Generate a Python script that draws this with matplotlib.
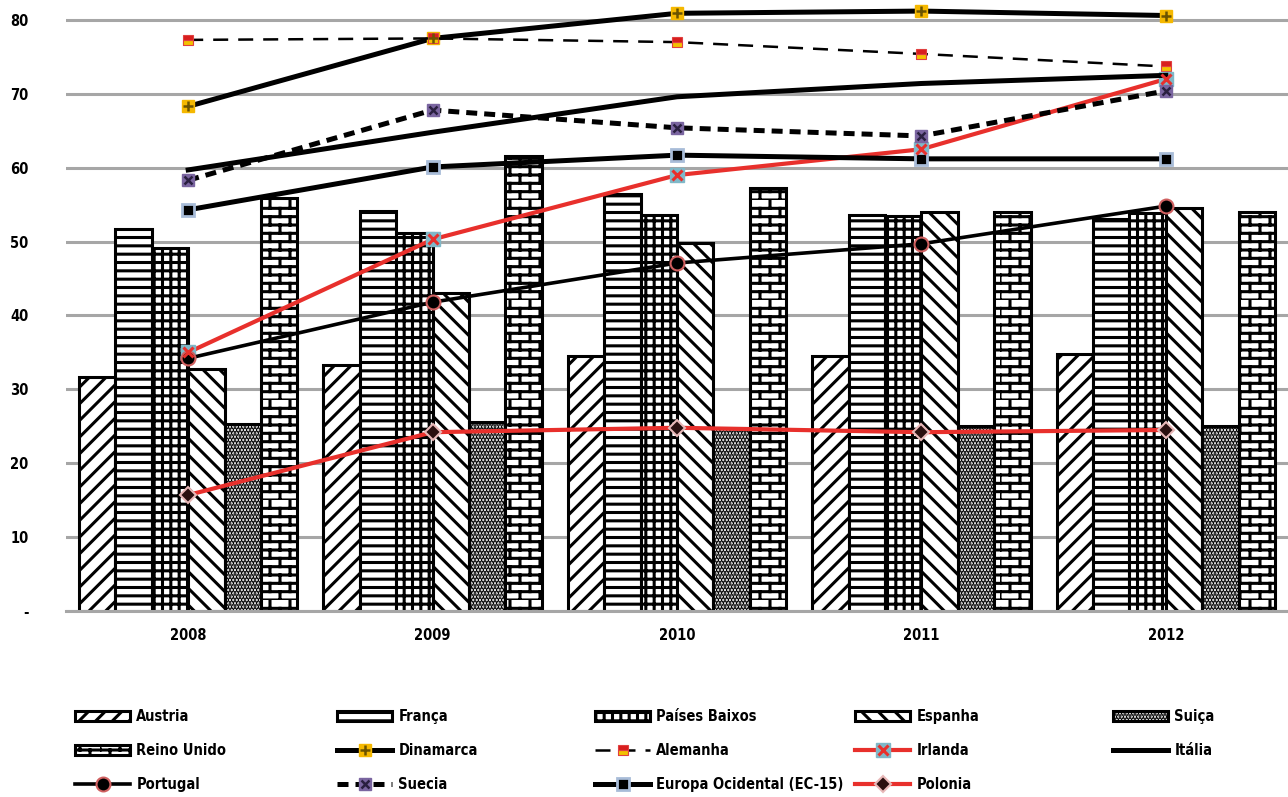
import warnings
import numpy as np
import matplotlib
matplotlib.use("Agg")
import matplotlib.pyplot as plt
from matplotlib import hatch as mhatch
from matplotlib.path import Path
from matplotlib.legend_handler import HandlerTuple

warnings.filterwarnings("ignore")

years = ["2008", "2009", "2010", "2011", "2012"]

# bar series
austria = [31.7, 33.3, 34.5, 34.5, 34.8]
franca = [51.7, 54.2, 56.4, 53.6, 53.0]
paises_baixos = [49.1, 51.2, 53.6, 53.5, 53.9]
espanha = [32.7, 43.0, 49.8, 54.0, 54.5]
suica = [25.3, 25.6, 24.8, 25.0, 25.0]
reino_unido = [55.9, 61.6, 57.2, 54.0, 54.0]

# line series
dinamarca = [68.3, 77.5, 80.9, 81.2, 80.6]
alemanha = [77.3, 77.5, 77.0, 75.4, 73.7]
irlanda = [35.0, 50.3, 59.0, 62.5, 72.0]
italia = [59.7, 64.8, 69.6, 71.4, 72.5]
portugal = [34.2, 41.8, 47.1, 49.7, 54.8]
suecia = [58.3, 67.8, 65.4, 64.3, 70.4]
europa_oc = [54.3, 60.1, 61.7, 61.2, 61.2]
polonia = [15.7, 24.2, 24.8, 24.2, 24.5]


class BrickHatch:
    """Brick wall hatch, selected with the letter 'b'."""

    def __init__(self, hatch, density):
        n = hatch.count("b")
        self.rows = 12 * n
        self.cols = 5
        self.num_vertices = (self.rows * 2 + self.rows * self.cols * 2) if n else 0

    def set_vertices_and_codes(self, vertices, codes):
        k = 0
        for i in range(self.rows):
            y0 = i / self.rows
            y1 = (i + 1) / self.rows
            vertices[k] = (0.0, y0)
            vertices[k + 1] = (1.0, y0)
            k += 2
            shift = 0.5 if i % 2 else 0.0
            for j in range(self.cols):
                xx = (j + shift) / self.cols
                vertices[k] = (xx, y0)
                vertices[k + 1] = (xx, y1)
                k += 2
        codes[0::2] = Path.MOVETO
        codes[1::2] = Path.LINETO


mhatch._hatch_types.append(BrickHatch)

plt.rcParams["font.family"] = ["DejaVu Sans"]
plt.rcParams["font.stretch"] = "condensed"
plt.rcParams["font.weight"] = "bold"
plt.rcParams["hatch.linewidth"] = 2.2
plt.rcParams["hatch.color"] = "black"

fig = plt.figure(figsize=(12.88, 7.97), dpi=100)
ax = fig.add_axes([66 / 1288, 186 / 797, 1 - 66 / 1288, 611 / 797])

x = np.arange(len(years))
w = 0.149
bar_series = [
    ("Austria", austria, "//"),
    ("França", franca, "--"),
    ("Países Baixos", paises_baixos, "++"),
    ("Espanha", espanha, "\\\\"),
    ("Suiça", suica, "....."),
    ("Reino Unido", reino_unido, "b"),
]
bar_handles = {}
for i, (name, vals, h) in enumerate(bar_series):
    bars = ax.bar(x + (i - 2.5) * w, vals, width=w, facecolor="white",
                  edgecolor="black", linewidth=2.2, hatch=h, label=name, zorder=2)
    bar_handles[name] = bars

line_handles = {}

l1, = ax.plot(x, dinamarca, color="black", lw=3.6, marker="s", ms=9,
              mfc="#f5b800", mec="#f5b800", zorder=4)
l2, = ax.plot(x, dinamarca, ls="none", marker="+", ms=7, mew=1.8,
              color="#6b5300", zorder=5)
line_handles["Dinamarca"] = (l1, l2)

l1, = ax.plot(x, alemanha, color="black", lw=1.8, ls=(0, (6, 4)), marker="s",
              ms=7, fillstyle="bottom", mfc="#f2c200", mfcalt="#d81e1e",
              mec="#e04040", mew=0.8, zorder=4)
line_handles["Alemanha"] = (l1,)

l1, = ax.plot(x, irlanda, color="#e8302c", lw=3.0, marker="s", ms=10,
              mfc="#7fb8c8", mec="#7fb8c8", zorder=4)
l2, = ax.plot(x, irlanda, ls="none", marker="x", ms=7, mew=2.2,
              color="#e8302c", zorder=5)
line_handles["Irlanda"] = (l1, l2)

l1, = ax.plot(x, italia, color="black", lw=3.6, zorder=4)
line_handles["Itália"] = (l1,)

l1, = ax.plot(x, portugal, color="black", lw=2.6, marker="o", ms=10,
              mfc="black", mec="#d06060", mew=1.5, zorder=4)
line_handles["Portugal"] = (l1,)

l1, = ax.plot(x, suecia, color="black", lw=3.6, ls=(0, (2.2, 1.4)),
              marker="s", ms=9, mfc="#7a65a0", mec="#7a65a0", zorder=4)
l2, = ax.plot(x, suecia, ls="none", marker="x", ms=6, mew=1.8,
              color="#2a2040", zorder=5)
line_handles["Suecia"] = (l1, l2)

l1, = ax.plot(x, europa_oc, color="black", lw=3.6, marker="s", ms=9,
              mfc="black", mec="#a8bcd8", mew=2.0, zorder=4)
line_handles["Europa Ocidental (EC-15)"] = (l1,)

l1, = ax.plot(x, polonia, color="#e8302c", lw=3.0, marker="D", ms=8,
              mfc="#2a1010", mec="#e8b8b8", mew=1.5, zorder=4)
line_handles["Polonia"] = (l1,)

ax.set_xlim(-0.5, len(years) - 0.5)
ax.set_ylim(0, 82.7)
ax.set_xticks(x, years)
ax.set_yticks(np.arange(0, 81, 10), ["-"] + [str(v) for v in range(10, 81, 10)])
ax.tick_params(axis="both", length=0, labelsize=10.5)
ax.tick_params(axis="y", pad=27)
ax.tick_params(axis="x", pad=12)
ax.grid(axis="y", color="#a6a6a6", lw=2.2, zorder=0)
ax.set_axisbelow(True)
for s in ["top", "right", "left"]:
    ax.spines[s].set_visible(False)
ax.spines["bottom"].set_color("#a6a6a6")
ax.spines["bottom"].set_linewidth(2.2)

# one legend per column so every column starts at a fixed x
columns = [
    ["Austria", "Reino Unido", "Portugal"],
    ["França", "Dinamarca", "Suecia"],
    ["Países Baixos", "Alemanha", "Europa Ocidental (EC-15)"],
    ["Espanha", "Irlanda", "Polonia"],
    ["Suiça", "Itália"],
]
col_x = [75, 337, 595, 855, 1113]
for cx, names in zip(col_x, columns):
    handles = []
    for name in names:
        if name in bar_handles:
            handles.append(bar_handles[name])
        else:
            h = line_handles[name]
            handles.append(h if len(h) > 1 else h[0])
    fig.legend(handles, names, loc="upper left",
               bbox_to_anchor=(cx / 1288, 1 - 709 / 797),
               frameon=False, fontsize=10.5, handlelength=3.8,
               handleheight=0.7, handletextpad=0.4, labelspacing=1.3,
               borderpad=0, borderaxespad=0,
               handler_map={tuple: HandlerTuple(ndivide=1)})

fig.savefig("out.png", dpi=100)
